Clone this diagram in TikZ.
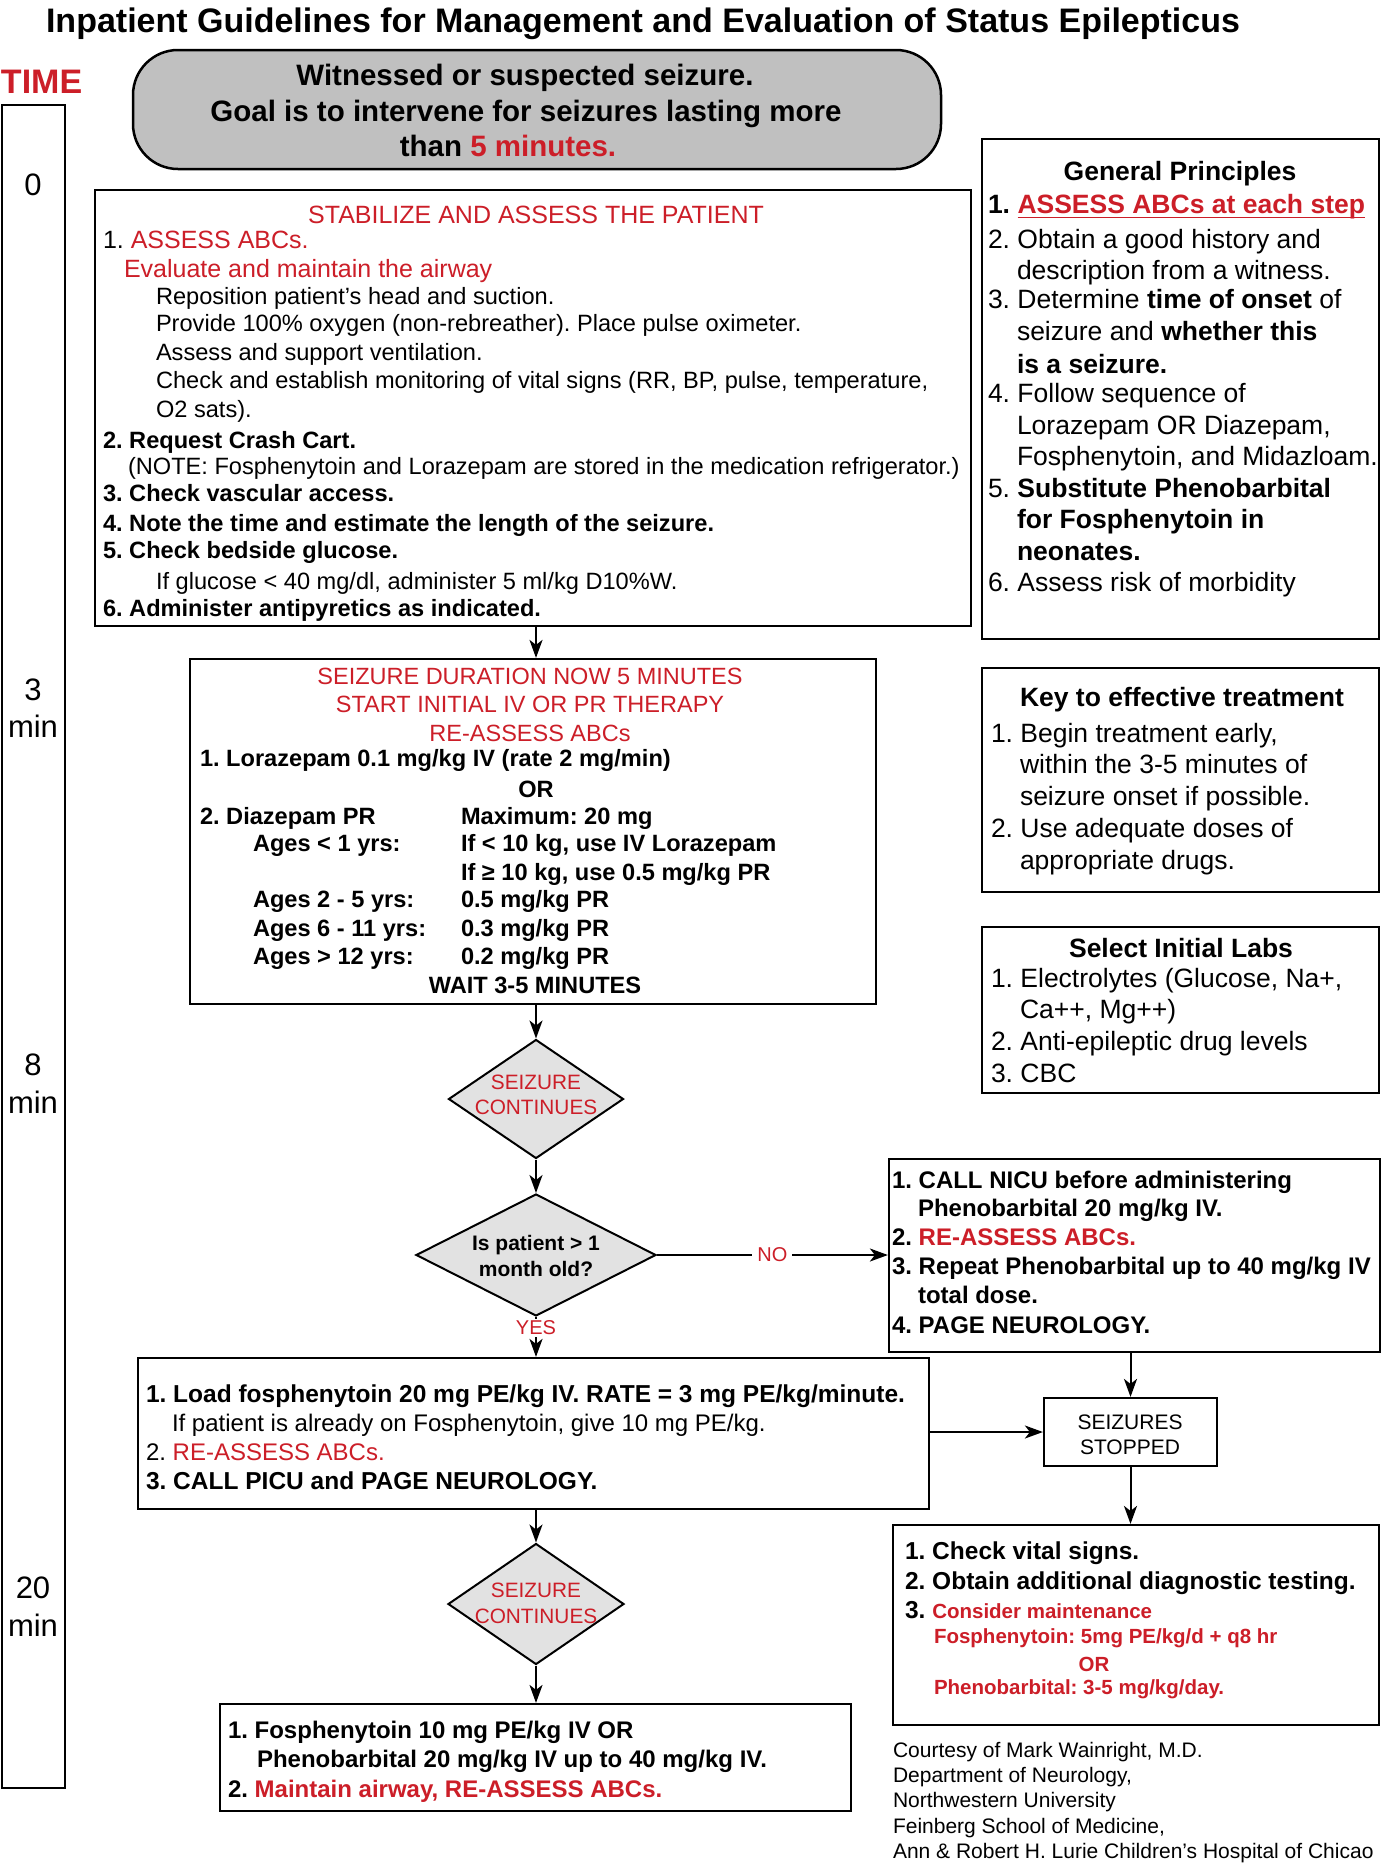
\documentclass[tikz,border=0pt]{standalone}
\usepackage{fontspec}
\setmainfont{Liberation Sans}
\usetikzlibrary{shapes.geometric,arrows.meta}
\definecolor{sred}{RGB}{204,30,40}
\definecolor{topgray}{RGB}{192,192,192}
\definecolor{dgray}{RGB}{226,226,226}
\frenchspacing
\begin{document}
\frenchspacing
\begin{tikzpicture}[x=1pt,y=-1pt,
 ln/.style={anchor=base west, inner sep=0pt, outer sep=0pt},
 lc/.style={anchor=base, inner sep=0pt, outer sep=0pt},
 fr/.style={font=\fontsize{#1}{#1}\selectfont\frenchspacing},
 fb/.style={font=\fontsize{#1}{#1}\selectfont\bfseries\frenchspacing},
 box/.style={draw, line width=2.2pt, rectangle, inner sep=0pt},
 dia/.style={diamond, draw, line width=2pt, fill=dgray, inner sep=0pt},
 arr/.style={line width=2pt, -{Stealth[length=18pt,width=13pt,inset=5pt]}},
]
\path[use as bounding box, fill=white] (0,0) rectangle (1384,1863);

% title and time axis
\node[lc, fb=34] (title) at (643,32) {Inpatient Guidelines for Management and Evaluation of Status Epilepticus};
\node[ln, fb=34, text=sred] (time) at (1,93) {TIME};
\node[box, line width=2.5pt, minimum width=63, minimum height=1683] (tl) at (33.5,946.5) {};
\node[lc, fr=31] (t0) at (33,195) {0};
\node[lc, fr=31] (t3) at (33,700) {3};
\node[lc, fr=31] (t3m) at (33,737) {min};
\node[lc, fr=31] (t8) at (33,1075) {8};
\node[lc, fr=31] (t8m) at (33,1113) {min};
\node[lc, fr=31] (t20) at (33,1598) {20};
\node[lc, fr=31] (t20m) at (33,1636) {min};

% top rounded box
\node[draw, line width=2.5pt, fill=topgray, rounded corners=45pt, minimum width=808, minimum height=119, inner sep=0pt] (top) at (537,109.5) {};
\node[lc, fb=29.5] (top1) at (525,85.5) {Witnessed or suspected seizure.};
\node[lc, fb=29.5] (top2) at (526,121) {Goal is to intervene for seizures lasting more};
\node[lc, fb=29.5] (top3) at (508,156) {than \textcolor{sred}{5 minutes.}};

% stabilize box
\node[box, minimum width=876, minimum height=436] (stab) at (533,408) {};
\node[lc, fr=25, text=sred] (s0) at (536,223) {STABILIZE AND ASSESS THE PATIENT};
\node[ln, fr=25] (s1) at (103,248) {1. \textcolor{sred}{ASSESS ABCs.}};
\node[ln, fr=25, text=sred] (s2) at (124,277) {Evaluate and maintain the airway};
\node[ln, fr=23.6] (s3) at (156,304.5) {Reposition patient’s head and suction.};
\node[ln, fr=23.6] (s4) at (156,331.5) {Provide 100\% oxygen (non-rebreather). Place pulse oximeter.};
\node[ln, fr=23.6] (s5) at (156,360.5) {Assess and support ventilation.};
\node[ln, fr=23.6] (s6) at (156,388.5) {Check and establish monitoring of vital signs (RR, BP, pulse, temperature,};
\node[ln, fr=23.6] (s7) at (156,417.5) {O2 sats).};
\node[ln, fb=23.6] (s8) at (103,448.5) {2. Request Crash Cart.};
\node[ln, fr=23.6] (s9) at (128,474.5) {(NOTE: Fosphenytoin and Lorazepam are stored in the medication refrigerator.)};
\node[ln, fb=23.6] (s10) at (103,501.5) {3. Check vascular access.};
\node[ln, fb=23.6] (s11) at (103,531.5) {4. Note the time and estimate the length of the seizure.};
\node[ln, fb=23.6] (s12) at (103,558.5) {5. Check bedside glucose.};
\node[ln, fr=23.6] (s13) at (156,589.5) {If glucose < 40 mg/dl, administer 5 ml/kg D10\%W.};
\node[ln, fb=23.6] (s14) at (103,616.5) {6. Administer antipyretics as indicated.};

% seizure duration box
\node[box, minimum width=686, minimum height=345] (dur) at (533,831.5) {};
\node[lc, fr=23.5, text=sred] (u1) at (530,684.5) {SEIZURE DURATION NOW 5 MINUTES};
\node[lc, fr=23.5, text=sred] (u2) at (530,712.5) {START INITIAL IV OR PR THERAPY};
\node[lc, fr=23.5, text=sred] (u3) at (530,741.5) {RE-ASSESS ABCs};
\node[ln, fb=23.6] (u4) at (200,766.5) {1. Lorazepam 0.1 mg/kg IV (rate 2 mg/min)};
\node[lc, fb=23.6] (u5) at (536,797.5) {OR};
\node[ln, fb=23.6] (u6) at (200,824.5) {2. Diazepam PR};
\node[ln, fb=23.6] (u6b) at (461,824.5) {Maximum: 20 mg};
\node[ln, fb=23.6] (u7) at (253,851.5) {Ages < 1 yrs:};
\node[ln, fb=23.6] (u7b) at (461,851.5) {If < 10 kg, use IV Lorazepam};
\node[ln, fb=23.6] (u8b) at (461,880.5) {If ≥ 10 kg, use 0.5 mg/kg PR};
\node[ln, fb=23.6] (u9) at (253,907.5) {Ages 2 - 5 yrs:};
\node[ln, fb=23.6] (u9b) at (461,907.5) {0.5 mg/kg PR};
\node[ln, fb=23.6] (u10) at (253,936.5) {Ages 6 - 11 yrs:};
\node[ln, fb=23.6] (u10b) at (461,936.5) {0.3 mg/kg PR};
\node[ln, fb=23.6] (u11) at (253,964.5) {Ages > 12 yrs:};
\node[ln, fb=23.6] (u11b) at (461,964.5) {0.2 mg/kg PR};
\node[lc, fb=23.6] (u12) at (535,993.5) {WAIT 3-5 MINUTES};

% diamonds
\node[dia, minimum width=175, minimum height=119] (d1) at (536,1099) {};
\node[lc, fr=20.8, text=sred] (d1a) at (536,1089.5) {SEIZURE};
\node[lc, fr=20.8, text=sred] (d1b) at (536,1114.5) {CONTINUES};
\node[dia, minimum width=240, minimum height=122] (d2) at (536,1255) {};
\node[lc, fb=21] (d2a) at (536,1250.5) {Is patient > 1};
\node[lc, fb=21] (d2b) at (536,1276.5) {month old?};
\node[dia, minimum width=176, minimum height=121] (d3) at (536,1604) {};
\node[lc, fr=20.8, text=sred] (d3a) at (536,1597.5) {SEIZURE};
\node[lc, fr=20.8, text=sred] (d3b) at (536,1623.5) {CONTINUES};

% NICU box
\node[box, minimum width=491, minimum height=193] (nicu) at (1134.5,1255.5) {};
\node[ln, fb=24] (n1) at (892,1188.5) {1. CALL NICU before administering};
\node[ln, fb=24] (n2) at (918,1216.5) {Phenobarbital 20 mg/kg IV.};
\node[ln, fb=24] (n3) at (892,1245.5) {2. \textcolor{sred}{RE-ASSESS ABCs.}};
\node[ln, fb=24] (n4) at (892,1274.5) {3. Repeat Phenobarbital up to 40 mg/kg IV};
\node[ln, fb=24] (n5) at (918,1303.5) {total dose.};
\node[ln, fb=24] (n6) at (892,1333.5) {4. PAGE NEUROLOGY.};

% seizures stopped
\node[box, minimum width=173, minimum height=68] (stop) at (1130.5,1432) {};
\node[lc, fr=21] (st1) at (1130,1429.5) {SEIZURES};
\node[lc, fr=21] (st2) at (1130,1454.5) {STOPPED};

% load box
\node[box, minimum width=791, minimum height=151] (load) at (533.5,1433.5) {};
\node[ln, fb=24.5] (l1) at (146,1402.5) {1. Load fosphenytoin 20 mg PE/kg IV. RATE = 3 mg PE/kg/minute.};
\node[ln, fr=24] (l2) at (172,1431.5) {If patient is already on Fosphenytoin, give 10 mg PE/kg.};
\node[ln, fr=24] (l3) at (146,1460.5) {2. \textcolor{sred}{RE-ASSESS ABCs.}};
\node[ln, fb=24.5] (l4) at (146,1489.5) {3. CALL PICU and PAGE NEUROLOGY.};

% vital signs box
\node[box, minimum width=486, minimum height=200] (vit) at (1136,1625) {};
\node[ln, fb=24.5] (v1) at (905,1559) {1. Check vital signs.};
\node[ln, fb=24.5] (v2) at (905,1589) {2. Obtain additional diagnostic testing.};
\node[ln, fb=24.5] (v3) at (905,1618) {3. {\fontsize{20.5}{20.5}\selectfont\textcolor{sred}{Consider maintenance}}};
\node[ln, fb=20.5, text=sred] (v4) at (934,1643.5) {Fosphenytoin: 5mg PE/kg/d + q8 hr};
\node[lc, fb=20.5, text=sred] (v5) at (1094,1671.5) {OR};
\node[ln, fb=20.5, text=sred] (v6) at (934,1694.5) {Phenobarbital: 3-5 mg/kg/day.};

% credits
\node[ln, fr=21] (c1) at (893,1757) {Courtesy of Mark Wainright, M.D.};
\node[ln, fr=21] (c2) at (893,1782) {Department of Neurology,};
\node[ln, fr=21] (c3) at (893,1807) {Northwestern University};
\node[ln, fr=21] (c4) at (893,1833) {Feinberg School of Medicine,};
\node[ln, fr=21] (c5) at (893,1858) {Ann \& Robert H. Lurie Children’s Hospital of Chicao};

% final box
\node[box, minimum width=631, minimum height=107] (fin) at (535.5,1757.5) {};
\node[ln, fb=24] (f1) at (228,1738.5) {1. Fosphenytoin 10 mg PE/kg IV OR};
\node[ln, fb=24] (f2) at (257,1767.5) {Phenobarbital 20 mg/kg IV up to 40 mg/kg IV.};
\node[ln, fb=24] (f3) at (228,1797.5) {2. \textcolor{sred}{Maintain airway, RE-ASSESS ABCs.}};

% general principles
\node[box, minimum width=397, minimum height=500] (gp) at (1180.5,389) {};
\node[lc, fb=26.5] (g0) at (1180,180.5) {General Principles};
\node[ln, fb=26.5] (g1) at (988,213.5) {1.};
\node[ln, fb=26.5, text=sred] (g1b) at (1017.5,213.5) {ASSESS ABCs at each step};
\draw[sred, line width=1.8pt] ([yshift=-4pt]g1b.base west) -- ([yshift=-4pt]g1b.base east);
\node[ln, fr=26.5] (g2) at (988,248.5) {2. Obtain a good history and};
\node[ln, fr=26.5] (g3) at (1017,279.5) {description from a witness.};
\node[ln, fr=26.5] (g4) at (988,308.5) {3. Determine \textbf{time of onset} of};
\node[ln, fr=26.5] (g5) at (1017,340.5) {seizure and \textbf{whether this}};
\node[ln, fb=26.5] (g6) at (1017,373.5) {is a seizure.};
\node[ln, fr=26.5] (g7) at (988,402.5) {4. Follow sequence of};
\node[ln, fr=26.5] (g8) at (1017,434.5) {Lorazepam OR Diazepam,};
\node[ln, fr=26.5] (g9) at (1017,465.5) {Fosphenytoin, and Midazloam.};
\node[ln, fr=26.5] (g10) at (988,497.5) {5. \textbf{Substitute Phenobarbital}};
\node[ln, fb=26.5] (g11) at (1017,528.5) {for Fosphenytoin in};
\node[ln, fb=26.5] (g12) at (1017,560.5) {neonates.};
\node[ln, fr=26.5] (g13) at (988,591.5) {6. Assess risk of morbidity};

% key box
\node[box, minimum width=397, minimum height=224] (key) at (1180.5,780) {};
\node[lc, fb=26.5] (k0) at (1182,706.5) {Key to effective treatment};
\node[ln, fr=26.5] (k1) at (991,742.5) {1. Begin treatment early,};
\node[ln, fr=26.5] (k2) at (1020,773.5) {within the 3-5 minutes of};
\node[ln, fr=26.5] (k3) at (1020,805.5) {seizure onset if possible.};
\node[ln, fr=26.5] (k4) at (991,837.5) {2. Use adequate doses of};
\node[ln, fr=26.5] (k5) at (1020,869.5) {appropriate drugs.};

% labs box
\node[box, minimum width=397, minimum height=166] (labs) at (1180.5,1010) {};
\node[lc, fb=26.5] (b0) at (1181,957.5) {Select Initial Labs};
\node[ln, fr=26.5] (b1) at (991,987.5) {1. Electrolytes (Glucose, Na+,};
\node[ln, fr=26.5] (b2) at (1020,1018.5) {Ca++, Mg++)};
\node[ln, fr=26.5] (b3) at (991,1050.5) {2. Anti-epileptic drug levels};
\node[ln, fr=26.5] (b4) at (991,1082.5) {3. CBC};

% connectors
\draw[arr] (stab.south -| d1) -- (dur.north -| d1);
\draw[arr] (dur.south -| d1) -- (d1.north);
\draw[arr] (d1.south) -- (d2.north);
\draw[arr] (d2.east) -- node (no) [midway, fill=white, inner sep=5pt, fr=20, text=sred] {NO} (d2.east -| nicu.west);
\draw[arr] (d2.south) -- node (yes) [pos=0.27, fill=white, inner sep=2pt, fr=20, text=sred] {YES} (d2.south |- load.north);
\draw[arr] (nicu.south -| stop) -- (stop.north);
\draw[arr] (stop.west -| load.east) -- (stop.west);
\draw[arr] (stop.south) -- (vit.north -| stop);
\draw[arr] (load.south -| d3) -- (d3.north);
\draw[arr] (d3.south) -- (fin.north -| d3);
\end{tikzpicture}
\end{document}
